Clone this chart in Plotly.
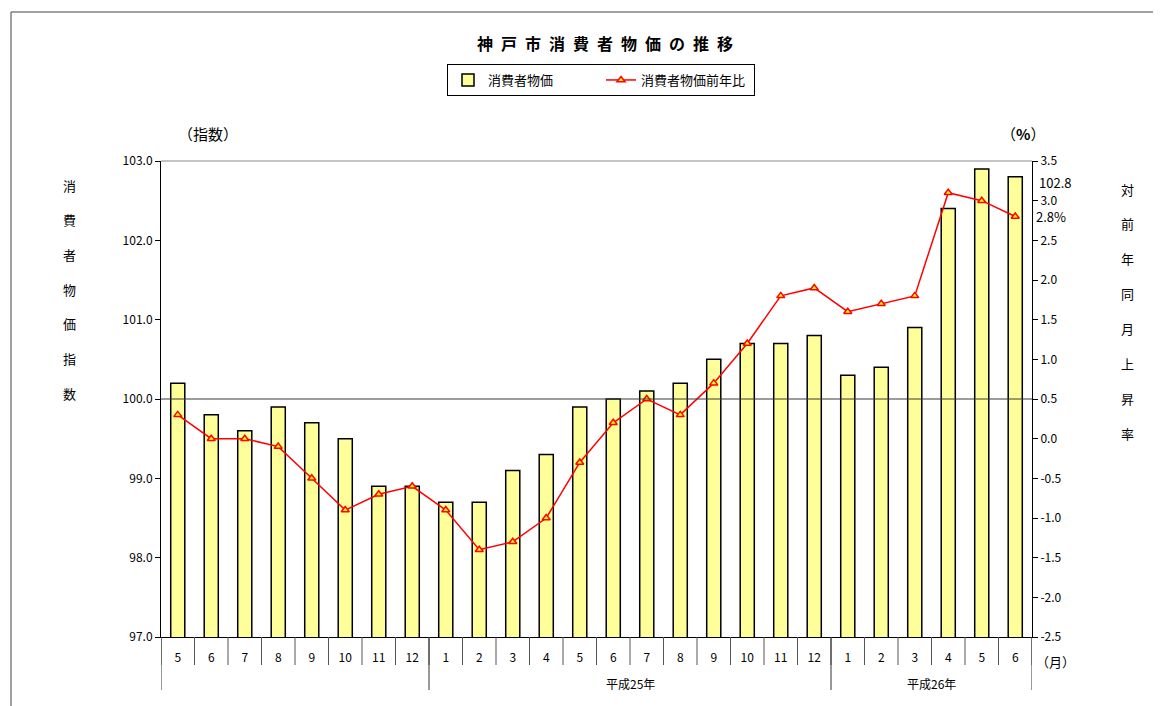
import plotly.graph_objects as go

months = ["5", "6", "7", "8", "9", "10", "11", "12",
          "1", "2", "3", "4", "5", "6", "7", "8", "9", "10", "11", "12",
          "1", "2", "3", "4", "5", "6"]
index_vals = [100.2, 99.8, 99.6, 99.9, 99.7, 99.5, 98.9, 98.9,
              98.7, 98.7, 99.1, 99.3, 99.9, 100.0, 100.1, 100.2, 100.5, 100.7, 100.7, 100.8,
              100.3, 100.4, 100.9, 102.4, 102.9, 102.8]
yoy_vals = [0.3, 0.0, 0.0, -0.1, -0.5, -0.9, -0.7, -0.6,
            -0.9, -1.4, -1.3, -1.0, -0.3, 0.2, 0.5, 0.3, 0.7, 1.2, 1.8, 1.9,
            1.6, 1.7, 1.8, 3.1, 3.0, 2.8]
group_labels = ["", "平成25年", "平成26年"]
group_counts = [8, 12, 6]
left_ticks = [97.0, 98.0, 99.0, 100.0, 101.0, 102.0, 103.0]
right_ticks = [-2.5, -2.0, -1.5, -1.0, -0.5, 0.0, 0.5, 1.0, 1.5, 2.0, 2.5, 3.0, 3.5]

FONT = "Noto Sans CJK JP"
xs = list(range(len(months)))

fig = go.Figure()
fig.add_trace(go.Bar(
    x=xs, y=index_vals, name="消費者物価", width=0.42,
    marker=dict(color="#FFFF99", line=dict(color="black", width=1.5)),
))
fig.add_trace(go.Scatter(
    x=xs, y=yoy_vals, yaxis="y2", name="消費者物価前年比", mode="lines+markers",
    line=dict(color="red", width=1.5),
    marker=dict(symbol="triangle-up", size=7, color="#FFFF00",
                line=dict(color="red", width=1.5)),
))

# page has an 8px body margin; plot area spans x 161..1032, y 161..637 on screen
OFF = 8
PL, PR, PT, PB = 161, 1032, 161, 637
PW = PR - PL
PH = PB - PT

def px_x(x):
    return (x - PL) / PW

def px_y(y):
    return (PB - y) / PH

shapes = []
shapes.append(dict(type="line", xref="paper", yref="y", x0=0, x1=1, y0=100, y1=100,
                   line=dict(color="#3a3a3a", width=1.2), layer="above"))
shapes.append(dict(type="line", xref="paper", yref="paper", x0=0, x1=1, y0=1, y1=1,
                   line=dict(color="#888888", width=1)))
for i in range(len(months) + 1):
    shapes.append(dict(type="line", xref="x", yref="paper", x0=i - 0.5, x1=i - 0.5,
                       y0=0, y1=px_y(665), line=dict(color="#555555", width=1)))
pos = -0.5
bounds = [pos]
for c in group_counts:
    pos += c
    bounds.append(pos)
for b in bounds:
    shapes.append(dict(type="line", xref="x", yref="paper", x0=b, x1=b,
                       y0=0, y1=px_y(690), line=dict(color="#333333", width=1)))
shapes.append(dict(type="rect", xref="paper", yref="paper",
                   x0=px_x(11), x1=1.5, y0=-1, y1=px_y(12),
                   line=dict(color="#444444", width=1), fillcolor="rgba(0,0,0,0)"))

def ann(text, x, y, size=13, xref="paper", yref="paper", xanchor="center", yanchor="middle",
        yshift=0):
    return dict(text=text, xref=xref, yref=yref, x=x, y=y, showarrow=False,
                xanchor=xanchor, yanchor=yanchor, yshift=yshift,
                font=dict(family=FONT, size=size, color="black"))

annotations = []
annotations.append(ann("<b>" + "\u2002".join("神戸市消費者物価の推移") + "</b>",
                       px_x(605), px_y(43), size=16))
for b0, b1, lab in zip(bounds[:-1], bounds[1:], group_labels):
    if lab:
        annotations.append(ann(lab, (b0 + b1) / 2, px_y(683), size=12, xref="x"))
annotations.append(ann("（指数）", px_x(208), px_y(134), size=15))
annotations.append(ann("（<b>%</b>）", px_x(1023), px_y(134), size=15))
annotations.append(ann("（月）", px_x(1055), px_y(661), size=13))
for k, ch in enumerate("消費者物価指数"):
    annotations.append(ann(ch, px_x(69), px_y(185 + k * 34.7), size=13))
for k, ch in enumerate("対前年同月上昇率"):
    annotations.append(ann(ch, px_x(1127), px_y(189 + k * 34.9), size=13))
annotations.append(ann(f"{index_vals[-1]:.1f}", px_x(1037), index_vals[-1], size=13,
                       yref="y", xanchor="left", yshift=-6))
annotations.append(ann(f"{yoy_vals[-1]:.1f}%", px_x(1034), yoy_vals[-1], size=13,
                       yref="y2", xanchor="left"))

fig.update_layout(
    width=1161 - OFF, height=706 - OFF,
    margin=dict(l=PL - OFF, r=1161 - PR, t=PT - OFF, b=706 - PB),
    paper_bgcolor="white", plot_bgcolor="white",
    font=dict(family=FONT, size=12, color="black"),
    showlegend=True,
    legend=dict(orientation="h", x=px_x(601), xanchor="center",
                y=px_y(64), yanchor="top",
                bordercolor="black", borderwidth=1, bgcolor="white",
                font=dict(family=FONT, size=13, color="black"),
                entrywidth=108, itemwidth=30),
    xaxis=dict(range=[-0.5, len(months) - 0.5], tickmode="array", tickvals=xs, ticktext=months,
               ticks="outside", ticklen=10, tickcolor="rgba(0,0,0,0)",
               showline=True, linecolor="black", linewidth=1, showgrid=False, zeroline=False,
               tickfont=dict(family=FONT, size=12)),
    yaxis=dict(range=[97, 103], tickmode="array", tickvals=left_ticks,
               ticktext=[f"{v:.1f}" for v in left_ticks],
               ticks="outside", ticklen=5, tickcolor="black",
               showline=True, linecolor="black", linewidth=1, showgrid=False, zeroline=False,
               tickfont=dict(family=FONT, size=12)),
    yaxis2=dict(range=[-2.5, 3.5], overlaying="y", side="right", tickmode="array",
                tickvals=right_ticks, ticktext=[f"{v:.1f}" for v in right_ticks],
                ticks="outside", ticklen=5, tickcolor="black",
                showline=True, linecolor="black", linewidth=1, showgrid=False, zeroline=False,
                tickfont=dict(family=FONT, size=12)),
    shapes=shapes, annotations=annotations,
)

fig.write_html("out.html")
